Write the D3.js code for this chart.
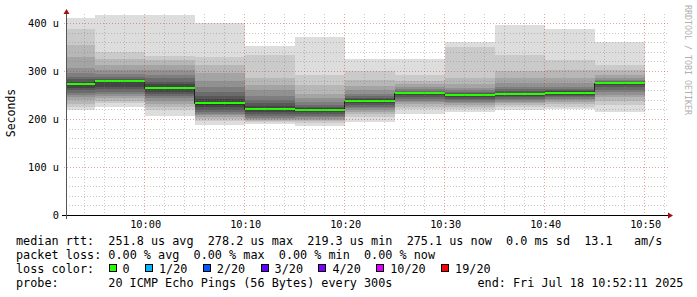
<!DOCTYPE html>
<html>
<head>
<meta charset="utf-8">
<script src="https://d3js.org/d3.v7.min.js"></script>
<style>
body { margin: 0; background: #fff; }
svg text { font-family: "DejaVu Sans Mono", monospace; fill: #000; }
</style>
</head>
<body>
<div id="chart"></div>
<script>

// end of each 5 minute step
var times = ["09:55", "10:00", "10:05", "10:10", "10:15", "10:20",
             "10:25", "10:30", "10:35", "10:40", "10:45", "10:50"];

// median rtt per step (us)
var medians = [273, 278.2, 264, 233, 221, 219.3, 238, 253.5, 249, 252, 255, 275.1];

// the 20 sorted pings of every step (us), these make the smoke
var pings = [
  [219, 226, 232, 240, 245, 250, 255, 260, 265, 271, 275, 278, 283, 288, 295, 306, 330, 354, 387, 410],
  [225, 233, 238, 244, 248, 253, 257, 262, 266, 277, 279, 280, 283, 287, 293, 302, 312, 324, 340, 430],
  [206, 218, 226, 232, 238, 244, 248, 252, 256, 262, 266, 272, 278, 285, 292, 302, 312, 322, 331, 430],
  [188, 196, 200, 204, 208, 211, 215, 219, 224, 230, 236, 241, 248, 257, 267, 279, 295, 312, 330, 399],
  [190, 193, 196, 198, 200, 203, 206, 210, 214, 219, 223, 227, 233, 240, 248, 260, 271, 285, 333, 352],
  [186, 192, 195, 198, 201, 204, 207, 210, 214, 218, 220, 222, 226, 230, 236, 243, 253, 271, 292, 371],
  [194, 205, 210, 215, 218, 222, 225, 229, 233, 237, 239, 241, 244, 248, 253, 260, 269, 281, 299, 326],
  [210, 220, 226, 231, 235, 238, 242, 246, 249, 252, 254.5, 255, 257, 259, 262, 266, 272, 280, 292, 326],
  [215, 221, 226, 230, 233, 236, 239, 242, 245, 248, 250, 252, 254, 257, 261, 265, 273, 285, 349, 360],
  [219, 225, 229, 233, 236, 239, 242, 245, 248, 251, 253, 255, 258, 262, 267, 274, 285, 299, 333, 396],
  [220, 226, 231, 235, 239, 242, 245, 248, 251, 254, 256.5, 258, 260, 263, 267, 274, 285, 302, 323, 388],
  [215, 230, 238, 245, 251, 257, 261, 266, 270, 274, 275.8, 276.5, 277.5, 279, 282, 286, 292, 302, 312, 360]
];

var yTicks = [0, 100, 200, 300, 400];
var xTicks = ["10:00", "10:10", "10:20", "10:30", "10:40", "10:50"];

var lossLabels = ["0", "1/20", "2/20", "3/20", "4/20", "10/20", "19/20"];
var lossColors = ["#26ff00", "#00b8ff", "#0059ff", "#5e00ff", "#7e00ff", "#dd00ff", "#ff0000"];

var legendRtt  = "median rtt:  251.8 us avg  278.2 us max  219.3 us min  275.1 us now  0.0 ms sd  13.1   am/s";
var legendLoss = "packet loss: 0.00 % avg  0.00 % max  0.00 % min  0.00 % now";
var probeText  = "20 ICMP Echo Pings (56 Bytes) every 300s";
var endText    = "end: Fri Jul 18 10:52:11 2025";

var W = 697, H = 297;
var pLeft = 67, pRight = 667, pTop = 15, pBottom = 215;
var adv = 7.1;   // legend char width

// keep runs of spaces
function pre(s) { return s.replace(/ /g, "\u00a0"); }

var svg = d3.select("#chart").append("svg")
  .attr("width", W).attr("height", H);

var parse = d3.timeParse("%H:%M:%S");
var t0 = parse("09:52:11"), t1 = parse("10:52:11");

var x = d3.scaleTime().domain([t0, t1]).range([pLeft, pRight]);
var y = d3.scaleLinear().domain([0, 200 / 0.48]).range([pBottom, pTop]);

svg.append("clipPath").attr("id", "plot")
  .append("rect").attr("x", pLeft).attr("y", pTop)
  .attr("width", pRight - pLeft).attr("height", pBottom - pTop);

// build the steps
var steps = times.map(function(t, i) {
  var end = parse(t + ":00");
  var start = d3.timeMinute.offset(end, -5);
  if (start < t0) start = t0;
  return { start: start, end: end, median: medians[i], pings: pings[i] };
});

// smoke: outer pair lightest, inner pair darkest
var half = 10;
var smoke = [];
steps.forEach(function(s) {
  for (var i = 1; i <= half; i++) {
    var c = Math.floor(190 / half * (half - i)) + 50;
    smoke.push({ s: s, lo: s.pings[i - 1], hi: s.pings[20 - i], color: d3.rgb(c, c, c) });
  }
});

var plot = svg.append("g").attr("clip-path", "url(#plot)");

plot.selectAll("rect.smoke")
  .data(smoke)
  .enter().append("rect")
    .attr("class", "smoke")
    .attr("x", function(d) { return Math.round(x(d.s.start)); })
    .attr("width", function(d) { return Math.round(x(d.s.end)) - Math.round(x(d.s.start)); })
    .attr("y", function(d) { return Math.round(y(d.hi)); })
    .attr("height", function(d) { return Math.round(y(d.lo)) - Math.round(y(d.hi)); })
    .attr("fill", function(d) { return d.color; })
    .attr("shape-rendering", "crispEdges");

// grid, drawn over the smoke
var grid = svg.append("g");
var minorX = d3.timeMinute.every(2).range(t0, t1).filter(function(d) { return d.getMinutes() % 10 != 0; });
var majorX = d3.timeMinute.every(10).range(t0, t1);
var minorY = d3.range(20, 420, 20).filter(function(v) { return v % 100 != 0; });

function gx(d) { return Math.round(x(d)) - 0.5; }
function gy(v) { return Math.round(y(v)) + 0.5; }

grid.selectAll("line.mx").data(minorX).enter().append("line")
  .attr("x1", gx).attr("x2", gx).attr("y1", pTop - 1).attr("y2", pBottom)
  .attr("stroke", "rgba(120,120,120,0.4)").attr("stroke-dasharray", "1,2");
grid.selectAll("line.my").data(minorY).enter().append("line")
  .attr("x1", pLeft - 1).attr("x2", pRight + 1).attr("y1", gy).attr("y2", gy)
  .attr("stroke", "rgba(120,120,120,0.4)").attr("stroke-dasharray", "1,2");
grid.selectAll("line.Mx").data(majorX).enter().append("line")
  .attr("x1", gx).attr("x2", gx).attr("y1", pTop - 1).attr("y2", pBottom)
  .attr("stroke", "rgba(220,40,40,0.45)").attr("stroke-dasharray", "1,2");
grid.selectAll("line.My").data(yTicks.slice(1)).enter().append("line")
  .attr("x1", pLeft - 3).attr("x2", pRight + 1).attr("y1", gy).attr("y2", gy)
  .attr("stroke", "rgba(220,40,40,0.45)").attr("stroke-dasharray", "1,2");

// median: thin dark step line, then loss coloured segments
var stepPts = [];
steps.forEach(function(s) {
  stepPts.push([s.start, s.median]);
  stepPts.push([s.end, s.median]);
});
var line = d3.line()
  .x(function(d) { return Math.round(x(d[0])) - 0.5; })
  .y(function(d) { return Math.round(y(d[1])) + 0.5; });

plot.append("path")
  .datum(stepPts)
  .attr("fill", "none")
  .attr("stroke", "#202020")
  .attr("stroke-width", 1)
  .attr("d", line);

plot.selectAll("path.med")
  .data(steps)
  .enter().append("path")
    .attr("class", "med")
    .attr("fill", "none")
    .attr("stroke", lossColors[0])
    .attr("stroke-width", 2)
    .attr("d", function(s) {
      return d3.line()
        .x(function(d) { return Math.round(x(d[0])); })
        .y(function(d) { return Math.round(y(d[1])); })([[s.start, s.median], [s.end, s.median]]);
    });

// axes
svg.append("line")
  .attr("x1", pLeft - 5).attr("x2", pRight + 4)
  .attr("y1", pBottom + 0.5).attr("y2", pBottom + 0.5)
  .attr("stroke", "#000");
svg.append("line")
  .attr("x1", pLeft - 0.5).attr("x2", pLeft - 0.5)
  .attr("y1", pBottom + 4).attr("y2", pTop - 3)
  .attr("stroke", "#555");
svg.append("path")
  .attr("d", "M" + (pRight + 6) + "," + (pBottom + 0.5) + "l-5,-3v6z")
  .attr("fill", "#a01010");
svg.append("path")
  .attr("d", "M" + (pLeft - 0.5) + "," + (pTop - 6) + "l-3,5h6z")
  .attr("fill", "#a01010");

var yAxis = svg.append("g")
  .attr("transform", "translate(" + (pLeft - 1) + ",0)")
  .call(d3.axisLeft(y).tickValues(yTicks).tickSize(0).tickPadding(7)
    .tickFormat(function(d) { return d ? pre(d + " u") : "0"; }));
yAxis.select(".domain").remove();
yAxis.selectAll("text").style("font-size", "10.3px").attr("fill", "#000");

var xAxis = svg.append("g")
  .attr("transform", "translate(0," + pBottom + ")")
  .call(d3.axisBottom(x).tickValues(xTicks.map(function(t) { return parse(t + ":00"); }))
    .tickSize(0).tickPadding(6).tickFormat(d3.timeFormat("%H:%M")));
xAxis.select(".domain").remove();
xAxis.selectAll("text").style("font-size", "10.3px").attr("fill", "#000");

// titles
svg.append("text")
  .attr("transform", "translate(15,113) rotate(-90)")
  .attr("text-anchor", "middle")
  .style("font-size", "11.5px")
  .text("Seconds");

svg.append("text")
  .attr("transform", "translate(685,5) rotate(90)")
  .style("font-size", "8.3px")
  .style("fill", "#b0b0b0")
  .text(pre("RRDTOOL / TOBI OETIKER"));

// legend
var legend = svg.append("g").style("font-size", "11.8px");
legend.append("text").attr("x", 16).attr("y", 245).text(pre(legendRtt));
legend.append("text").attr("x", 16).attr("y", 259).text(pre(legendLoss));
legend.append("text").attr("x", 16).attr("y", 273).text(pre("loss color:"));
legend.append("text").attr("x", 16).attr("y", 287).text(pre("probe:"));
legend.append("text").attr("x", 16 + 13 * adv).attr("y", 287).text(pre(probeText));
legend.append("text").attr("x", 16 + 65 * adv).attr("y", 287).text(pre(endText));

var lx = 122.5, lossPos = [];
lossLabels.forEach(function(l) {
  lossPos.push(lx);
  lx += l.length * adv + 29.4;
});
var items = legend.selectAll("g.loss")
  .data(lossLabels)
  .enter().append("g").attr("class", "loss");
items.append("rect")
  .attr("x", function(d, i) { return Math.round(lossPos[i] - 14) + 0.5; })
  .attr("y", 264.5)
  .attr("width", 7).attr("height", 7)
  .attr("fill", function(d, i) { return lossColors[i]; })
  .attr("stroke", "#000");
items.append("text")
  .attr("x", function(d, i) { return lossPos[i]; })
  .attr("y", 273)
  .text(function(d) { return d; });

</script>
</body>
</html>
